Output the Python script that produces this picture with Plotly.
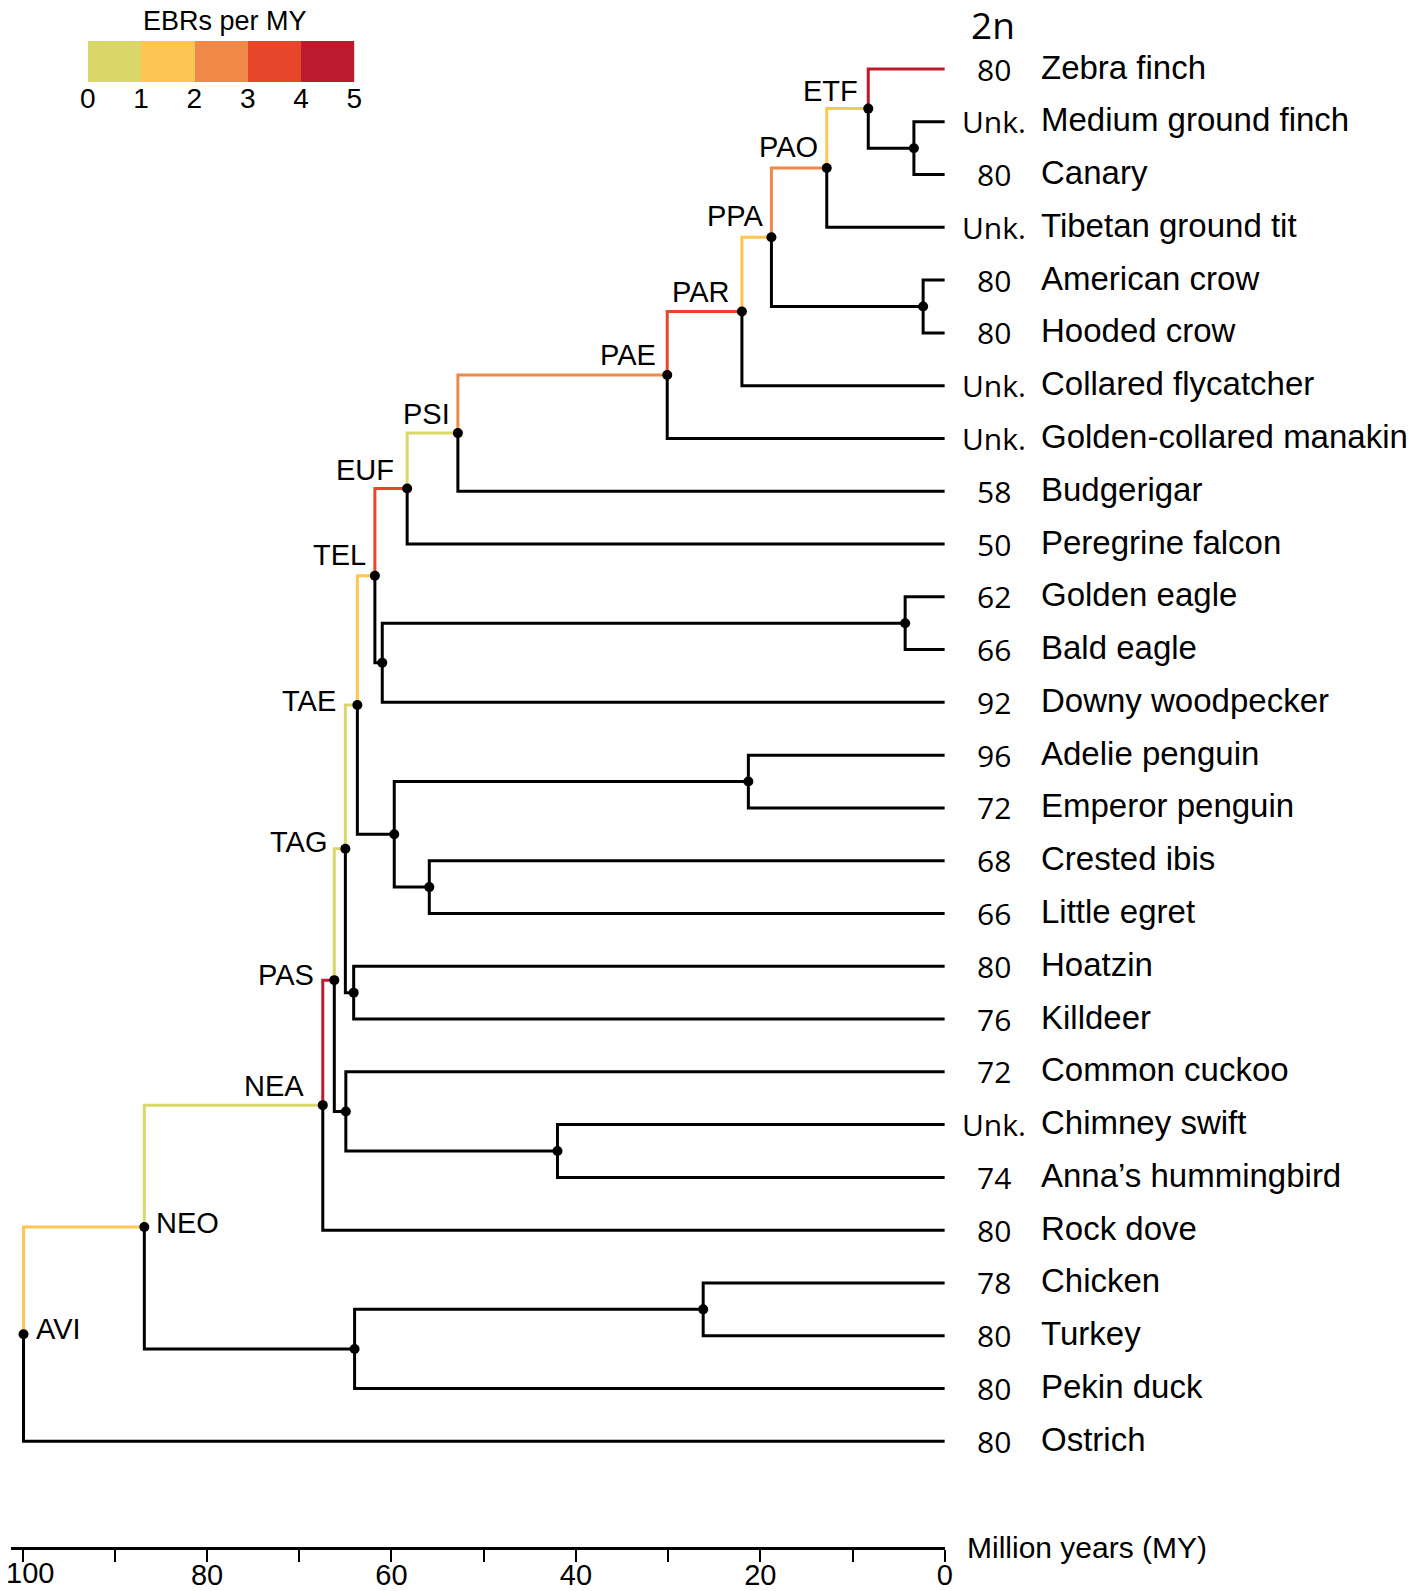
import plotly.graph_objects as go

# ---------------- data ----------------
species = ["Zebra finch", "Medium ground finch", "Canary", "Tibetan ground tit",
           "American crow", "Hooded crow", "Collared flycatcher", "Golden-collared manakin",
           "Budgerigar", "Peregrine falcon", "Golden eagle", "Bald eagle",
           "Downy woodpecker", "Adelie penguin", "Emperor penguin", "Crested ibis",
           "Little egret", "Hoatzin", "Killdeer", "Common cuckoo", "Chimney swift",
           "Anna\u2019s hummingbird", "Rock dove", "Chicken", "Turkey", "Pekin duck", "Ostrich"]
chrom_2n = ["80", "Unk.", "80", "Unk.", "80", "80", "Unk.", "Unk.", "58", "50", "62", "66",
            "92", "96", "72", "68", "66", "80", "76", "72", "Unk.", "74", "80", "78", "80",
            "80", "80"]

# internal nodes: id, age (MY), children
node_ids = ["FRI", "ETF", "PAO", "COR", "PPA", "PAR", "PAE", "PSI", "EUF", "ACC", "AFR",
            "TEL", "SPH", "PEL", "AEQ", "TAE", "OTI", "TAG", "APO", "COL", "PAS", "NEA",
            "GAL", "GAN", "NEO", "AVI"]
node_ages = [3.35, 8.3, 12.8, 2.35, 18.8, 22.0, 30.1, 52.8, 58.3, 4.3, 61.0,
             61.8, 21.3, 55.9, 59.7, 63.7, 64.1, 65.0, 42.0, 64.95, 66.2, 67.45,
             26.2, 64.0, 86.8, 99.9]
node_children = [
    ["Medium ground finch", "Canary"],
    ["Zebra finch", "FRI"],
    ["ETF", "Tibetan ground tit"],
    ["American crow", "Hooded crow"],
    ["PAO", "COR"],
    ["PPA", "Collared flycatcher"],
    ["PAR", "Golden-collared manakin"],
    ["PAE", "Budgerigar"],
    ["PSI", "Peregrine falcon"],
    ["Golden eagle", "Bald eagle"],
    ["ACC", "Downy woodpecker"],
    ["EUF", "AFR"],
    ["Adelie penguin", "Emperor penguin"],
    ["Crested ibis", "Little egret"],
    ["SPH", "PEL"],
    ["TEL", "AEQ"],
    ["Hoatzin", "Killdeer"],
    ["TAE", "OTI"],
    ["Chimney swift", "Anna\u2019s hummingbird"],
    ["Common cuckoo", "APO"],
    ["TAG", "COL"],
    ["PAS", "Rock dove"],
    ["Chicken", "Turkey"],
    ["GAL", "Pekin duck"],
    ["NEA", "GAN"],
    ["NEO", "Ostrich"],
]
labelled_nodes = ["ETF", "PAO", "PPA", "PAR", "PAE", "PSI", "EUF", "TEL", "TAE", "TAG",
                  "PAS", "NEA", "NEO", "AVI"]

# EBR rate bin (0-1,1-2,...,4-5) of the branch leading into a node
branch_ids = ["NEO", "NEA", "PAS", "TAG", "TAE", "TEL", "EUF", "PSI", "PAE", "PAR",
              "PPA", "PAO", "ETF", "Zebra finch"]
branch_bins = [1, 0, 4, 0, 0, 1, 3, 0, 2, 3, 1, 2, 1, 4]

legend_edges = [0, 1, 2, 3, 4, 5]
time_ticks = [100, 90, 80, 70, 60, 50, 40, 30, 20, 10, 0]
time_ticktext = ["", "", "80", "", "60", "", "40", "", "20", "", "0"]
time_first_label = "100"

# ---------------- styles ----------------
bin_colors = ["#D8D768", "#FDC652", "#F08848", "#E8462B", "#BC1A2D"]
SANS = "Liberation Sans, Arial, sans-serif"
NARROW = "Liberation Sans Narrow, Arial Narrow, Liberation Sans, sans-serif"
NUMFONT = "Open Sans, sans-serif"
LW = 3

label_offsets = {  # (xanchor, xshift, yshift) in px
    "ETF": ("right", -8, 18), "PAO": ("right", -7, 21), "PPA": ("right", -5, 21),
    "PAR": ("right", -11, 19), "PAE": ("right", -9, 20), "PSI": ("right", -6, 19),
    "EUF": ("right", -11, 19), "TEL": ("right", -7, 21), "TAE": ("right", -19, 4),
    "TAG": ("right", -16, 7), "PAS": ("right", -18, 5), "NEA": ("right", -17, 19),
    "NEO": ("left", 10, 4), "AVI": ("left", 10, 5),
}

# page geometry: the page body adds an 8px offset
OFF = 8
W, H = 1418 - OFF, 1591 - OFF


def fx(p):  # reference pixel x -> paper x
    return (p - OFF) / W


def fy(p):  # reference pixel y -> paper y
    return 1 - (p - OFF) / H


# ---------------- tree geometry ----------------
age = {s: 0.0 for s in species}
age.update(dict(zip(node_ids, node_ages)))
children = dict(zip(node_ids, node_children))
ypos = {s: float(i) for i, s in enumerate(species)}


def get_y(n):
    if n not in ypos:
        ypos[n] = sum(get_y(c) for c in children[n]) / len(children[n])
    return ypos[n]


for n in node_ids:
    get_y(n)

bin_of = dict(zip(branch_ids, branch_bins))

black_x, black_y = [], []
colored = {b: ([], []) for b in range(5)}
for n in node_ids:
    for c in children[n]:
        xs = [age[n], age[n], age[c], None]
        ys = [ypos[n], ypos[c], ypos[c], None]
        if c in bin_of:
            colored[bin_of[c]][0].extend(xs)
            colored[bin_of[c]][1].extend(ys)
        else:
            black_x.extend(xs)
            black_y.extend(ys)

fig = go.Figure()
fig.add_trace(go.Scatter(x=black_x, y=black_y, mode="lines",
                         line=dict(color="black", width=LW), hoverinfo="skip"))
for b in range(5):
    if colored[b][0]:
        fig.add_trace(go.Scatter(x=colored[b][0], y=colored[b][1], mode="lines",
                                 line=dict(color=bin_colors[b], width=LW), hoverinfo="skip"))
fig.add_trace(go.Scatter(x=[age[n] for n in node_ids], y=[ypos[n] for n in node_ids],
                         mode="markers", marker=dict(color="black", size=10),
                         hoverinfo="skip"))

# legend colour bar
cs = []
for i, c in enumerate(bin_colors):
    cs.append([i / 5, c])
    cs.append([(i + 1) / 5, c])
fig.add_trace(go.Heatmap(
    z=[[(legend_edges[i] + legend_edges[i + 1]) / 2 for i in range(5)]],
    x=legend_edges, y=[0, 1],
    zmin=0, zmax=5, showscale=False, hoverinfo="skip",
    colorscale=cs, xaxis="x2", yaxis="y2"))

ann = []
for n in labelled_nodes:
    xa, xs, ys = label_offsets[n]
    ann.append(dict(x=age[n], y=ypos[n], xref="x", yref="y", text=n, showarrow=False,
                    xanchor=xa, yanchor="middle", xshift=xs, yshift=ys,
                    font=dict(family=SANS, size=29, color="black")))

for i, s in enumerate(species):
    ann.append(dict(x=fx(994), y=i, xref="paper", yref="y", text=chrom_2n[i],
                    showarrow=False, xanchor="center", yanchor="middle",
                    font=dict(family=NUMFONT, size=30, color="black")))
    ann.append(dict(x=fx(1038.5), y=i, xref="paper", yref="y", text=s, showarrow=False,
                    xanchor="left", yanchor="middle", yshift=2,
                    font=dict(family=SANS, size=33, color="black")))
ann.append(dict(x=fx(993), y=fy(24), xref="paper", yref="paper", text="2n",
                showarrow=False, xanchor="center", yanchor="middle",
                font=dict(family=NUMFONT, size=37, color="black")))
ann.append(dict(x=fx(225), y=fy(21), xref="paper", yref="paper", text="EBRs per MY",
                showarrow=False, xanchor="center", yanchor="middle",
                font=dict(family=SANS, size=27, color="black")))
ann.append(dict(x=fx(965), y=fy(1547), xref="paper", yref="paper",
                text="Million years (MY)", showarrow=False, xanchor="left",
                yanchor="middle", font=dict(family=SANS, size=30, color="black")))
# first time tick label sits slightly right of its tick in the original
ann.append(dict(x=time_ticks[0], y=fy(1573), xref="x", yref="paper",
                text=time_first_label, showarrow=False, xanchor="center",
                yanchor="middle", xshift=7,
                font=dict(family=NARROW, size=29, color="black")))

# pixel geometry (reference pixels)
px_per_my = (944.8 - 22.6) / 100
x_left_px, x_right_px = 11, 944.8
y_axis_px = 1547
leaf_top_px, leaf_bot_px = 69, 1441.3
px_per_leaf = (leaf_bot_px - leaf_top_px) / (len(species) - 1)

fig.update_layout(
    width=W, height=H, margin=dict(l=0, r=0, t=0, b=0, pad=0),
    paper_bgcolor="white", plot_bgcolor="white", showlegend=False,
    annotations=ann,
    xaxis=dict(domain=[fx(x_left_px), fx(x_right_px)],
               range=[100 + (22.6 - x_left_px) / px_per_my, 0], automargin=False,
               showgrid=False, zeroline=False, showline=True, linecolor="black",
               linewidth=3, ticks="outside", ticklen=12, tickwidth=2, tickcolor="black",
               tickvals=time_ticks, ticktext=time_ticktext,
               ticklabeloverflow="allow", ticklabelstandoff=-12,
               tickfont=dict(family=NARROW, size=29, color="black"), anchor="y"),
    yaxis=dict(domain=[fy(y_axis_px), fy(OFF)],
               range=[(len(species) - 1) + (y_axis_px - leaf_bot_px) / px_per_leaf,
                      -(leaf_top_px - OFF) / px_per_leaf],
               visible=False, anchor="x", automargin=False),
    xaxis2=dict(domain=[fx(87.7), fx(354.3)], range=[0, 5], anchor="y2", automargin=False,
                tickvals=legend_edges, ticks="", showgrid=False, zeroline=False,
                showline=False, ticklabelstandoff=-3, ticklabeloverflow="allow",
                tickfont=dict(family=SANS, size=28, color="black")),
    yaxis2=dict(domain=[fy(82), fy(41)], range=[0, 1], visible=False,
                anchor="x2", automargin=False),
)

fig.write_html("out.html")
